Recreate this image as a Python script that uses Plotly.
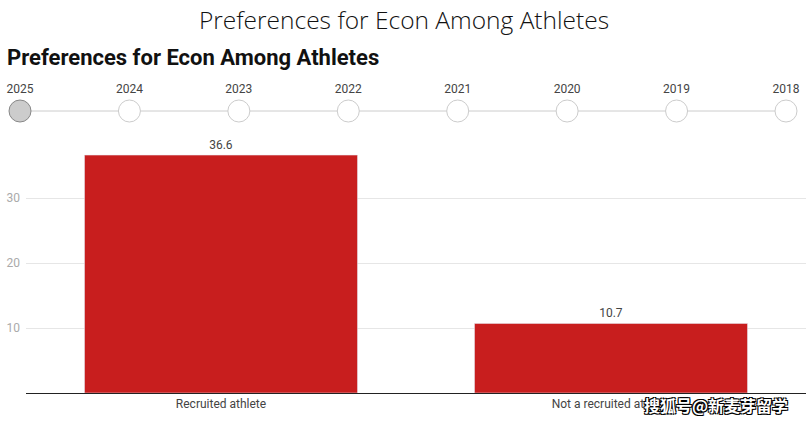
import plotly.graph_objects as go

title = "Preferences for Econ Among Athletes"
categories = ["Recruited athlete", "Not a recruited athlete"]
values = [36.6, 10.7]
years = ["2025", "2024", "2023", "2022", "2021", "2020", "2019", "2018"]
selected_year = "2025"
watermark = "搜狐号@新麦芽留学"

W, H = 808, 422
ml, mr, mt, mb = 0, 0, 0, 29
ph = H - mt - mb
pw = W - ml - mr
plot_left, plot_right = 26, 806

def py(p):
    return (H - mb - p) / ph

def px(p):
    return (p - ml) / pw

fig = go.Figure()
fig.add_trace(go.Bar(
    x=categories, y=values, marker_color="#c81e1e",
    text=[f"{v:.1f}" for v in values], textposition="outside",
    textfont=dict(family="Roboto", size=12, color="#444"),
    cliponaxis=False, hoverinfo="skip", showlegend=False,
))

idx = list(range(len(years)))
fig.add_trace(go.Scatter(
    x=idx, y=[0] * len(years), xaxis="x2", yaxis="y2",
    mode="lines+markers+text", text=years, textposition="top center",
    textfont=dict(family="Roboto", size=12, color="#444"),
    line=dict(color="#cccccc", width=1),
    marker=dict(size=22,
                color=["#cccccc" if y == selected_year else "#ffffff" for y in years],
                line=dict(width=1, color=["#888888" if y == selected_year else "#cccccc" for y in years])),
    cliponaxis=False, hoverinfo="skip", showlegend=False,
))

spacing = (786 - 20) / (len(years) - 1)
a = -20 / spacing
b = a + pw / spacing

fig.update_layout(
    width=W, height=H, margin=dict(l=ml, r=mr, t=mt, b=mb),
    paper_bgcolor="white", plot_bgcolor="white",
    title=dict(text=title, x=0.5, xref="container", xanchor="center",
               y=1 - 20 / H, yref="container", yanchor="middle",
               font=dict(family="Open Sans", size=24.5, color="#111", weight=300)),
    bargap=0.3,
    xaxis=dict(domain=[px(plot_left), px(plot_right)],
               showline=True, linecolor="#222", linewidth=1, ticks="",
               tickfont=dict(family="Roboto", size=12, color="#444"),
               showgrid=False, fixedrange=True),
    yaxis=dict(domain=[0, py(140)], range=[0, 253 / 6.5], tickvals=[10, 20, 30],
               showgrid=True, gridcolor="#e6e6e6", zeroline=False, ticks="",
               tickfont=dict(family="Roboto", size=12, color="#aaa"), ticklabelstandoff=5),
    xaxis2=dict(domain=[0, 1], range=[a, b], visible=False, anchor="y2"),
    yaxis2=dict(domain=[py(122), py(100)], range=[-1, 1], visible=False, anchor="x2"),
    annotations=[
        dict(text=title, x=px(5), y=py(58), xref="paper", yref="paper",
             xanchor="left", yanchor="middle", showarrow=False,
             font=dict(family="Roboto", size=22, color="#111", weight="bold")),
        dict(text=watermark, x=px(790), y=py(405), xref="paper", yref="paper",
             xanchor="right", yanchor="middle", showarrow=False,
             font=dict(family="Noto Sans CJK SC", size=16, color="white", weight="bold",
                       shadow="-1px -1px 0 #000, 1px -1px 0 #000, -1px 1px 0 #000, 1px 1px 0 #000")),
    ],
)

fig.write_html("out.html")
